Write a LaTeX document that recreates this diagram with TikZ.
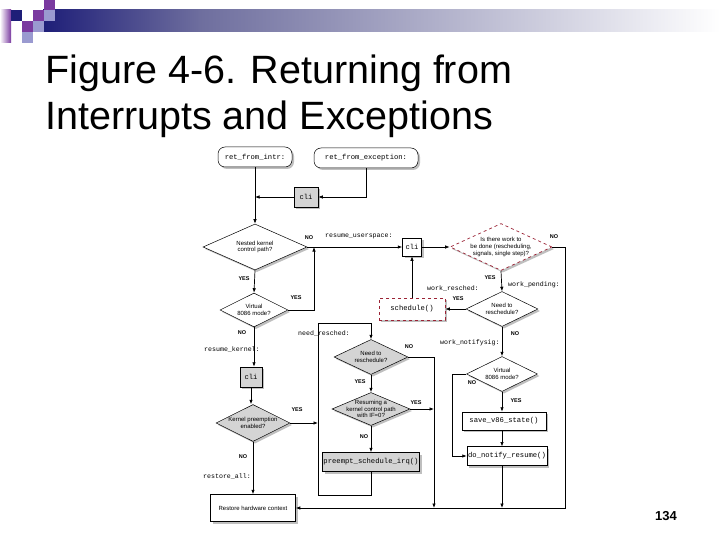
\documentclass[tikz,border=0pt]{standalone}
\usepackage{fontspec}
\setmainfont{Liberation Sans}
\newfontfamily\codefont{Liberation Mono}
\usetikzlibrary{shapes.geometric,shapes.misc,shadows,arrows.meta}
\definecolor{navy}{HTML}{1E1E78}
\definecolor{midblue}{HTML}{6E6E9E}
\definecolor{purp}{HTML}{7A3AA0}
\definecolor{lav}{HTML}{9A9AD0}
\definecolor{boxgray}{HTML}{D4D4D4}
\definecolor{dred}{HTML}{9B2335}
\begin{document}
\begin{tikzpicture}[x=1pt,y=-1pt,
  every node/.style={inner sep=0pt},
  code/.style={font=\codefont\fontsize{7.2}{8}\selectfont},
  lab/.style={font=\codefont\fontsize{6.6}{7}\selectfont},
  yn/.style={font=\bfseries\fontsize{5.5}{6}\selectfont},
  shd/.style={drop shadow={shadow xshift=2pt,shadow yshift=-2pt,fill=black!45,opacity=.55}},
  dtext/.style={align=center,font=\fontsize{6}{6.6}\selectfont},
  dia/.style={diamond,draw,line width=.5pt,fill=white,shd},
  gdia/.style={dia,fill=boxgray},
  rdia/.style={dia,draw=dred,dashed,line width=.7pt},
  box/.style={rectangle,draw,line width=.5pt,fill=white,code,shd},
  gbox/.style={box,fill=boxgray},
  rbox/.style={box,draw=dred,dashed,line width=.7pt},
  rnd/.style={box,rounded corners=7pt},
  arr/.style={-{Latex[length=4.5pt,width=3.5pt]},line width=.7pt}
]
\useasboundingbox (0,0) rectangle (720,540);
\fill[white] (0,0) rectangle (720,540);

% header decoration
\shade[left color=navy,right color=midblue] (43,10) rectangle (200,32);
\shade[left color=midblue,right color=white] (199.5,10) rectangle (720,32);
\shade[left color=white,right color=purp] (0,10) rectangle (11,43);
\fill[navy] (11,10) rectangle (22,21);
\fill[purp] (44,0) rectangle (55,10);
\fill[purp] (33,10) rectangle (44,21);
\fill[lav] (44,10) rectangle (55,21);
\fill[purp] (22,21) rectangle (33,32);
\fill[lav] (33,21) rectangle (44,32);
\fill[lav] (22,32) rectangle (33,43);

% title
\node[anchor=base west,font=\fontsize{39.5}{40}\selectfont] (t1) at (45,84) {Figure 4-6. Returning from};
\node[anchor=base west,font=\fontsize{39.5}{40}\selectfont] (t2) at (45,130) {Interrupts and Exceptions};
\node[font=\bfseries\fontsize{13}{14}\selectfont] (pg) at (666,516) {134};

% nodes
\node[rnd,minimum width=74pt,minimum height=20pt] (rfi) at (255,157) {ret\_from\_intr:};
\node[rnd,minimum width=104pt,minimum height=20pt] (rfe) at (366,158) {ret\_from\_exception:};
\node[gbox,minimum width=24pt,minimum height=20pt] (cli1) at (306,197) {cli};
\node[dia,minimum width=104pt,minimum height=46pt,label={[dtext]center:Nested kernel\\control path?}] (d1) at (255,247) {};
\node[box,minimum width=19pt,minimum height=18pt] (cli2) at (412,247) {cli};
\node[rdia,minimum width=102pt,minimum height=47pt,label={[dtext]center:Is there work to\\be done (rescheduling,\\signals, single step)?}] (dr) at (501,247) {};
\node[dia,minimum width=68pt,minimum height=34pt,label={[dtext]center:Virtual\\8086 mode?}] (d2) at (254,310) {};
\node[dia,minimum width=72pt,minimum height=35pt,label={[dtext]center:Need to\\reschedule?}] (dn2) at (502,309) {};
\node[rbox,minimum width=66pt,minimum height=22pt] (sch) at (412,309) {schedule()};
\node[gbox,minimum width=22pt,minimum height=20pt] (cli3) at (251,377) {cli};
\node[gdia,minimum width=74pt,minimum height=35pt,label={[dtext]center:Need to\\reschedule?}] (dn1) at (371,357) {};
\node[dia,minimum width=71pt,minimum height=35pt,label={[dtext]center:Virtual\\8086 mode?}] (dv3) at (502,374) {};
\node[gdia,minimum width=74pt,minimum height=37pt,label={[dtext]center:Kernel preemption\\enabled?}] (dk) at (253,423) {};
\node[gdia,minimum width=78pt,minimum height=33pt,label={[dtext]center:Resuming a\\kernel control path\\with IF=0?}] (dres) at (371,409) {};
\node[box,minimum width=84pt,minimum height=18pt] (save) at (504,421) {save\_v86\_state()};
\node[box,minimum width=80pt,minimum height=19pt] (dnr) at (507,456) {do\_notify\_resume()};
\node[gbox,minimum width=97pt,minimum height=19pt] (pre) at (371,462) {preempt\_schedule\_irq()};
\node[box,minimum width=85pt,minimum height=27pt,font=\fontsize{6}{7}\selectfont] (rst) at (253,508) {Restore hardware context};

% junction coordinates
\coordinate (j1) at (314,247);
\coordinate (lp1) at (318,495);
\coordinate (lp2) at (318,323);
\coordinate (nb1) at (434,508);
\coordinate (rb) at (565,508);
\coordinate (nl) at (452,374);
\coordinate (nb2) at (502,508);
\coordinate (s1) at (502,430);
\coordinate (s2) at (502,446.5);
\coordinate (s3) at (502,465.5);

% connectors
\draw[arr] (rfi.south) -- (d1.north);
\draw[arr] (rfe.south) |- (cli1.east);
\draw[arr] (cli1.west) -- (cli1.west -| rfi.south);
\draw[arr] (d1.east) -- (cli2.west);
\draw[arr] (d2.east) -| (j1);
\draw[arr] (d1.south) -- (d2.north);
\draw[arr] (d2.south) -- (cli3.north -| d2.south);
\draw[arr] (cli3.south) -- (dk.north -| cli3.south);
\draw[arr] (dk.south) -- (rst.north);
\draw[arr] (pre.south) |- (lp1) -- (lp2) -| (dn1.north);
\draw[arr] (dk.east) -- (dk.east -| lp1);
\draw[arr] (dn1.south) -- (dres.north);
\draw[arr] (dn1.east) -| (nb1);
\draw[arr] (dres.east) -- (dres.east -| nb1);
\draw[arr] (dres.south) -- (pre.north);
\draw[arr] (cli2.east) -- (dr.west);
\draw[arr] (dr.east) -| (rb) -- (rst.east);
\draw[arr] (dr.south) -- (dn2.north);
\draw[arr] (dn2.west) -- (sch.east);
\draw[arr] (sch.north) -- (cli2.south);
\draw[arr] (dn2.south) -- (dv3.north);
\draw[arr] (dv3.west) -- (nl) |- (dnr.west);
\draw[arr] (dv3.south) -- (save.north -| dv3.south);
\draw[arr] (s1) -- (s2);
\draw[arr] (s3) -- (nb2);

% labels
\node[yn] (l1) at (309,238) {NO};
\node[lab,anchor=west] (l2) at (325,236) {resume\_userspace:};
\node[yn] (l3) at (244,279) {YES};
\node[yn] (l4) at (296,298) {YES};
\node[yn] (l5) at (242,333) {NO};
\node[lab,anchor=west] (l6) at (204,349) {resume\_kernel:};
\node[yn] (l7) at (297,410) {YES};
\node[yn] (l8) at (243,457) {NO};
\node[lab,anchor=west] (l9) at (203,476) {restore\_all:};
\node[lab,anchor=west] (l10) at (298,333) {need\_resched:};
\node[yn] (l11) at (409,347) {NO};
\node[yn] (l12) at (360,382) {YES};
\node[yn] (l13) at (416,403) {YES};
\node[yn] (l14) at (364,437) {NO};
\node[yn] (l15) at (554,237) {NO};
\node[yn] (l16) at (490,278) {YES};
\node[lab,anchor=west] (l17) at (508,285) {work\_pending:};
\node[lab,anchor=west] (l18) at (427,288) {work\_resched:};
\node[yn] (l19) at (458,299) {YES};
\node[yn] (l20) at (515,334) {NO};
\node[lab,anchor=west] (l21) at (440,343) {work\_notifysig:};
\node[yn] (l22) at (472,383) {NO};
\node[yn] (l23) at (516,401) {YES};
\end{tikzpicture}
\end{document}
